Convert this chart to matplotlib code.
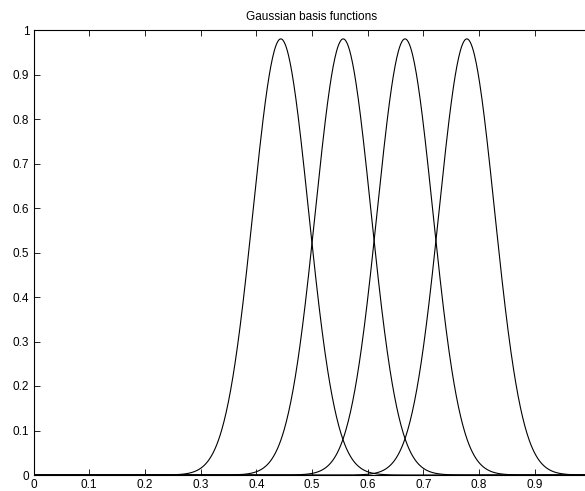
import numpy as np
import matplotlib
matplotlib.use('Agg')
import matplotlib.pyplot as plt

# gaussian basis parametreleri
centers = [0.444, 0.556, 0.667, 0.778]
width = 0.0498
peak = 0.98

x_ticks = [0, 0.1, 0.2, 0.3, 0.4, 0.5, 0.6, 0.7, 0.8, 0.9]
x_labels = ['0', '0.1', '0.2', '0.3', '0.4', '0.5', '0.6', '0.7', '0.8', '0.9']
y_ticks = [0, 0.1, 0.2, 0.3, 0.4, 0.5, 0.6, 0.7, 0.8, 0.9, 1]
y_labels = ['0', '0.1', '0.2', '0.3', '0.4', '0.5', '0.6', '0.7', '0.8', '0.9', '1']

plt.rcParams['font.family'] = ['Liberation Sans', 'DejaVu Sans']

fig = plt.figure(figsize=(5.85, 4.91), dpi=100)
W, H = 585, 491
# eksen sag tarafi resmin disina tasiyor (orijinal kirpilmis)
ax = fig.add_axes([33.5 / W, 16 / H, 557 / W, 445 / H])

x = np.linspace(0, 1, 1001)
for c in centers:
    ax.plot(x, peak * np.exp(-(x - c) ** 2 / (2 * width ** 2)), color='black', lw=0.8)

ax.set_xlim(0, 1)
ax.set_ylim(0, 1)
ax.set_xticks(x_ticks)
ax.set_xticklabels(x_labels)
ax.set_yticks(y_ticks)
ax.set_yticklabels(y_labels)
ax.tick_params(direction='in', top=True, right=True, length=4, width=0.6, labelsize=8.5, pad=3)
for s in ax.spines.values():
    s.set_linewidth(0.8)
ax.set_title('Gaussian basis functions', fontsize=8.5, pad=7)

fig.savefig('out.png', dpi=100)
